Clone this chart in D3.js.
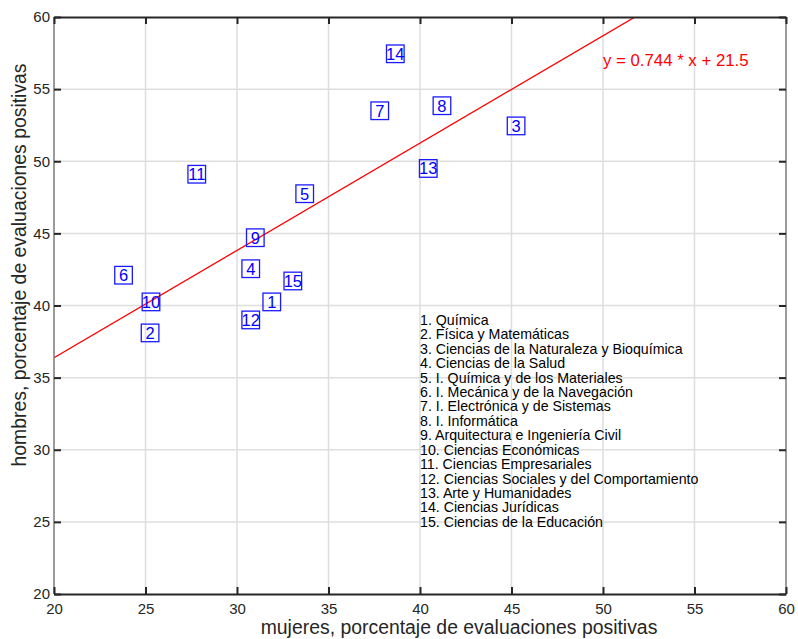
<!DOCTYPE html>
<html>
<head>
<meta charset="utf-8">
<script src="https://cdn.jsdelivr.net/npm/d3@7"></script>
<style>
  body { margin: 0; background: #fff; }
  svg { display: block; font-family: "Liberation Sans", Arial, Helvetica, sans-serif; }
</style>
</head>
<body>
<div id="chart"></div>
<script>
// areas (numbered) with % of positive evaluations for women (x) and men (y)
var ids    = [1, 2, 3, 4, 5, 6, 7, 8, 9, 10, 11, 12, 13, 14, 15]
var mujeres = [31.9, 25.25, 45.25, 30.75, 33.7, 23.8, 37.8, 41.2, 31.0, 25.3, 27.8, 30.75, 40.45, 38.65, 33.05]
var hombres = [40.25, 38.1, 52.45, 42.55, 47.75, 42.1, 53.5, 53.85, 44.7, 40.25, 49.1, 39.0, 49.5, 57.45, 41.7]
var areas = [
  '1. Química',
  '2. Física y Matemáticas',
  '3. Ciencias de la Naturaleza y Bioquímica',
  '4. Ciencias de la Salud',
  '5. I. Química y de los Materiales',
  '6. I. Mecánica y de la Navegación',
  '7. I. Electrónica y de Sistemas',
  '8. I. Informática',
  '9. Arquitectura e Ingeniería Civil',
  '10. Ciencias Económicas',
  '11. Ciencias Empresariales',
  '12. Ciencias Sociales y del Comportamiento',
  '13. Arte y Humanidades',
  '14. Ciencias Jurídicas',
  '15. Ciencias de la Educación'
]
var xTicks = [20, 25, 30, 35, 40, 45, 50, 55, 60]
var yTicks = [20, 25, 30, 35, 40, 45, 50, 55, 60]
var slope = 0.744, intercept = 21.5

var W = 798, H = 639
var margin = {left: 54, right: 12, top: 17, bottom: 45}

var svg = d3.select('#chart').append('svg').attr('width', W).attr('height', H)

var x = d3.scaleLinear().domain([20, 60]).range([margin.left, W - margin.right])
var y = d3.scaleLinear().domain([20, 60]).range([H - margin.bottom, margin.top])

svg.append('defs').append('clipPath').attr('id', 'clip')
  .append('rect')
  .attr('x', x(20)).attr('y', y(60))
  .attr('width', x(60) - x(20)).attr('height', y(20) - y(60))

// grid
var grid = svg.append('g').attr('stroke', '#dedede').attr('stroke-width', 1.5)
grid.selectAll('line.vx').data(xTicks.slice(1, -1)).join('line')
  .attr('x1', d => x(d)).attr('x2', d => x(d)).attr('y1', y(20)).attr('y2', y(60))
grid.selectAll('line.hy').data(yTicks.slice(1, -1)).join('line')
  .attr('y1', d => y(d)).attr('y2', d => y(d)).attr('x1', x(20)).attr('x2', x(60))

// fit line
svg.append('line')
  .attr('clip-path', 'url(#clip)')
  .attr('x1', x(20)).attr('y1', y(slope * 20 + intercept))
  .attr('x2', x(60)).attr('y2', y(slope * 60 + intercept))
  .attr('stroke', '#ff0000').attr('stroke-width', 1.3)

svg.append('text')
  .attr('x', x(50)).attr('y', y(57)).attr('dy', '0.35em')
  .attr('fill', '#ff0000').attr('font-size', 16.8)
  .text('y = ' + slope + ' * x + ' + intercept)

// points: square marker + number
var pts = svg.append('g').selectAll('g').data(ids).join('g')
  .attr('transform', (d, i) => 'translate(' + x(mujeres[i]) + ',' + y(hombres[i]) + ')')
pts.append('rect')
  .attr('x', -8.8).attr('y', -8.8).attr('width', 17.6).attr('height', 17.6)
  .attr('fill', 'none').attr('stroke', '#1a1aff').attr('stroke-width', 1.3)
pts.append('text')
  .attr('text-anchor', 'middle').attr('dy', '0.36em')
  .attr('fill', '#0000ff').attr('font-size', 16.5)
  .text(d => d)

// legend list
svg.append('g').selectAll('text').data(areas).join('text')
  .attr('x', x(40)).attr('y', (d, i) => y(39 - i)).attr('dy', '0.35em')
  .attr('font-size', 14.2).attr('fill', '#000')
  .text(d => d)

// frame
svg.append('line').attr('x1', x(20)).attr('x2', x(20)).attr('y1', y(20)).attr('y2', y(60))
  .attr('stroke', '#7a7a7a').attr('stroke-width', 1.5)
svg.append('line').attr('x1', x(60)).attr('x2', x(60)).attr('y1', y(20)).attr('y2', y(60))
  .attr('stroke', '#7a7a7a').attr('stroke-width', 1.5)

var tickLen = 7
var bottomAxis = d3.axisBottom(x).tickValues(xTicks).tickSizeInner(-tickLen).tickSizeOuter(0).tickPadding(9)
var topAxis = d3.axisTop(x).tickValues(xTicks).tickSizeInner(-tickLen).tickSizeOuter(0).tickFormat('')
var leftAxis = d3.axisLeft(y).tickValues(yTicks).tickSizeInner(-tickLen).tickSizeOuter(0).tickPadding(4)
var rightAxis = d3.axisRight(y).tickValues(yTicks).tickSizeInner(-tickLen).tickSizeOuter(0).tickFormat('')

function style(g, dark) {
  g.select('.domain').attr('stroke', dark ? '#262626' : 'none').attr('stroke-width', 2.2)
  g.selectAll('.tick line').attr('stroke', '#262626').attr('stroke-width', 2)
  g.selectAll('.tick text').attr('fill', '#262626').attr('font-size', 15)
    .attr('font-family', '"Liberation Sans", Arial, Helvetica, sans-serif')
}
svg.append('g').attr('transform', 'translate(0,' + y(20) + ')').call(bottomAxis).call(g => style(g, true))
svg.append('g').attr('transform', 'translate(0,' + y(60) + ')').call(topAxis).call(g => style(g, true))
svg.append('g').attr('transform', 'translate(' + x(20) + ',0)').call(leftAxis).call(g => style(g, false))
svg.append('g').attr('transform', 'translate(' + x(60) + ',0)').call(rightAxis).call(g => style(g, false))

// axis titles
svg.append('text')
  .attr('x', 459).attr('y', 634)
  .attr('text-anchor', 'middle').attr('font-size', 19.4).attr('fill', '#262626')
  .text('mujeres, porcentaje de evaluaciones positivas')
svg.append('text')
  .attr('transform', 'translate(26,265) rotate(-90)')
  .attr('text-anchor', 'middle').attr('font-size', 19.4).attr('fill', '#262626')
  .text('hombres, porcentaje de evaluaciones positivas')
</script>
</body>
</html>
